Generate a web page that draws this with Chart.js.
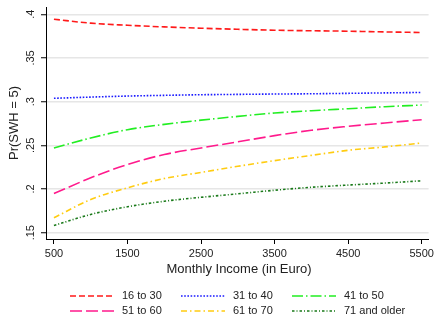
<!DOCTYPE html>
<html>
<head>
<meta charset="utf-8">
<script src="https://cdn.jsdelivr.net/npm/chart.js@4.4.0/dist/chart.umd.min.js"></script>
<style>
  html, body { margin: 0; padding: 0; background: #fff; }
  #wrap { width: 437px; height: 324px; }
</style>
</head>
<body>
<div id="wrap"><canvas id="chart" width="437" height="324"></canvas></div>
<script>
// income values (x) and predicted probabilities for each age group
const income = [500, 1000, 1500, 2000, 2500, 3000, 3500, 4000, 4500, 5000, 5500];
const age16to30 = [.3943, .3898, .3874, .3855, .3840, .3828, .3817, .3811, .3806, .3798, .3791];
const age31to40 = [.3038, .3052, .3064, .3072, .3079, .3083, .3087, .3090, .3095, .3100, .3105];
const age41to50 = [.2470, .2584, .2679, .2740, .2788, .2831, .2870, .2896, .2919, .2942, .2961];
const age51to60 = [.1948, .2128, .2280, .2395, .2470, .2540, .2611, .2672, .2717, .2756, .2793];
const age61to70 = [.1671, .1880, .2014, .2120, .2190, .2260, .2325, .2385, .2443, .2482, .2527];
const age71plus = [.1583, .1709, .1797, .1860, .1905, .1945, .1986, .2020, .2045, .2068, .2094];

const seriesLabels = ['16 to 30', '31 to 40', '41 to 50', '51 to 60', '61 to 70', '71 and older'];
const xTicks = [500, 1500, 2500, 3500, 4500, 5500];
const yTicks = [.15, .2, .25, .3, .35, .4];
const yTickLabels = ['.15', '.2', '.25', '.3', '.35', '.4'];

const FONT = '"Liberation Sans", Arial, sans-serif';

function makeSet(label, values, color, dash) {
    return {
        label: label,
        data: income.map((x, i) => ({ x: x, y: values[i] })),
        borderColor: color,
        borderWidth: 1.6,
        borderDash: dash,
        pointRadius: 0,
        fill: false,
        cubicInterpolationMode: 'monotone'
    };
}

const datasets = [
    makeSet(seriesLabels[0], age16to30, '#ff1a1a', [6, 3]),
    makeSet(seriesLabels[1], age31to40, '#1a1aff', [1.6, 1.6]),
    makeSet(seriesLabels[2], age41to50, '#22ee22', [11, 3, 1.5, 3]),
    makeSet(seriesLabels[3], age51to60, '#ff1a8c', [12, 4]),
    makeSet(seriesLabels[4], age61to70, '#ffcc11', [6, 3, 1.5, 3]),
    makeSet(seriesLabels[5], age71plus, '#1a7a1a', [2.5, 2, 1, 2])
];

// draws rotated y tick labels, the axis titles and the legend grid
const extraText = {
    id: 'extraText',
    afterDraw(chart) {
        const ctx = chart.ctx;
        const ys = chart.scales.y;
        const area = chart.chartArea;
        ctx.save();
        ctx.fillStyle = '#222';
        ctx.textAlign = 'center';
        ctx.textBaseline = 'middle';

        // y tick labels, rotated
        ctx.font = '11px ' + FONT;
        yTicks.forEach((v, i) => {
            const py = ys.getPixelForValue(v);
            ctx.save();
            ctx.translate(31, py);
            ctx.rotate(-Math.PI / 2);
            ctx.fillText(yTickLabels[i], 0, 0);
            ctx.restore();
        });

        // y title
        ctx.font = '13px ' + FONT;
        ctx.save();
        ctx.translate(14, (area.top + area.bottom) / 2);
        ctx.rotate(-Math.PI / 2);
        ctx.fillText('Pr(SWH = 5)', 0, 0);
        ctx.restore();

        // x title
        ctx.fillText('Monthly Income (in Euro)', 239, 269);

        // legend: 3 columns x 2 rows
        const cols = [70, 181, 292];
        const rows = [296, 311];
        ctx.font = '11px ' + FONT;
        ctx.textAlign = 'left';
        chart.data.datasets.forEach((ds, i) => {
            const cx = cols[i % 3];
            const cy = rows[Math.floor(i / 3)];
            ctx.beginPath();
            ctx.strokeStyle = ds.borderColor;
            ctx.lineWidth = ds.borderWidth;
            ctx.setLineDash(ds.borderDash);
            ctx.moveTo(cx, cy);
            ctx.lineTo(cx + 44, cy);
            ctx.stroke();
            ctx.setLineDash([]);
            ctx.fillText(ds.label, cx + 52, cy);
        });
        ctx.restore();
    }
};

new Chart(document.getElementById('chart'), {
    type: 'line',
    data: { datasets: datasets },
    plugins: [extraText],
    options: {
        responsive: false,
        animation: false,
        layout: { padding: { top: 7, right: 5, left: 0, bottom: 0 } },
        plugins: {
            legend: { display: false },
            tooltip: { enabled: false }
        },
        scales: {
            x: {
                type: 'linear',
                min: 392,
                max: 5594,
                afterBuildTicks: scale => { scale.ticks = xTicks.map(v => ({ value: v })); },
                afterFit: scale => { scale.height = 85; },
                grid: { drawOnChartArea: false, tickLength: 5, tickColor: '#000', tickWidth: 1 },
                border: { color: '#000', width: 1 },
                ticks: {
                    color: '#222',
                    font: { family: FONT, size: 11 },
                    padding: 3,
                    maxRotation: 0,
                    autoSkip: false,
                    callback: value => String(value)
                }
            },
            y: {
                min: 0.1428,
                max: 0.4083,
                afterBuildTicks: scale => { scale.ticks = yTicks.map(v => ({ value: v })); },
                afterFit: scale => { scale.width = 46; },
                grid: { color: '#e6e6e6', lineWidth: 1.5, tickLength: 5, tickColor: '#000', tickWidth: 1 },
                border: { color: '#000', width: 1 },
                ticks: { display: false }
            }
        }
    }
});
</script>
</body>
</html>
